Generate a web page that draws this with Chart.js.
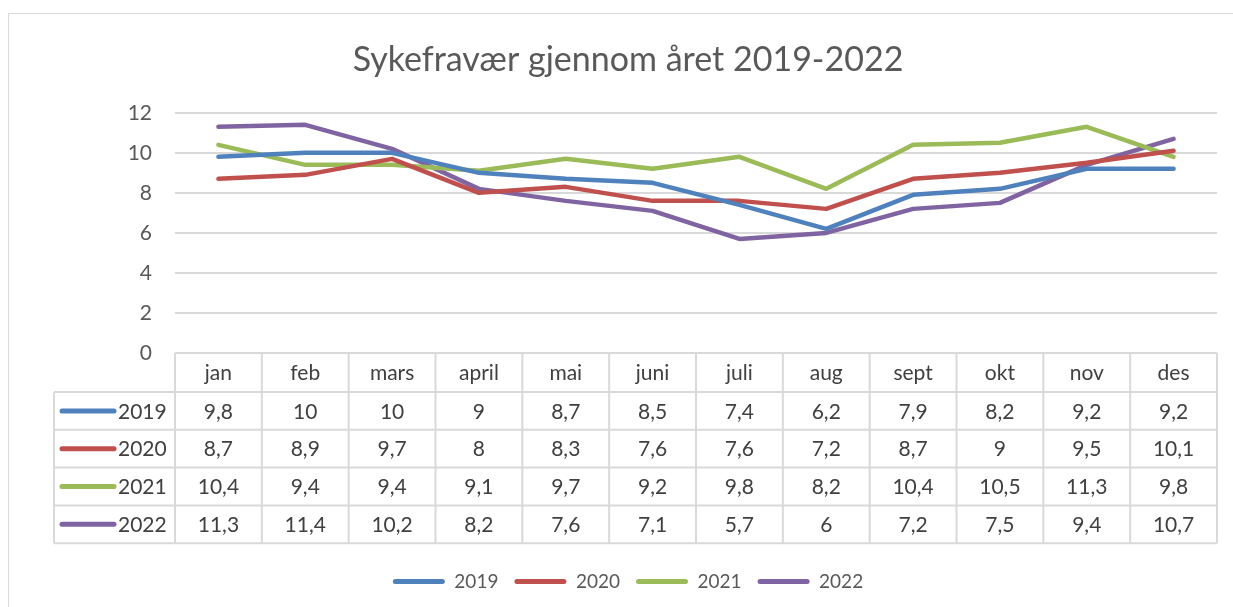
<!DOCTYPE html>
<html>
<head>
<meta charset="utf-8">
<script src="https://cdn.jsdelivr.net/npm/chart.js@4/dist/chart.umd.min.js"></script>
<style>
  body { margin: 0; background: #fff; overflow: hidden; }
  .frame { position: absolute; left: 8px; top: 13px; width: 1400px; height: 800px; border: 1.5px solid #d9d9d9; }
  .wrap { position: absolute; left: 0; top: 0; width: 1233px; height: 607px; }
</style>
</head>
<body>
<div class="frame"></div>
<div class="wrap"><canvas id="chart"></canvas></div>
<script>
// data
const months = ['jan', 'feb', 'mars', 'april', 'mai', 'juni', 'juli', 'aug', 'sept', 'okt', 'nov', 'des'];
const years = ['2019', '2020', '2021', '2022'];
const values2019 = [9.8, 10, 10, 9, 8.7, 8.5, 7.4, 6.2, 7.9, 8.2, 9.2, 9.2];
const values2020 = [8.7, 8.9, 9.7, 8, 8.3, 7.6, 7.6, 7.2, 8.7, 9, 9.5, 10.1];
const values2021 = [10.4, 9.4, 9.4, 9.1, 9.7, 9.2, 9.8, 8.2, 10.4, 10.5, 11.3, 9.8];
const values2022 = [11.3, 11.4, 10.2, 8.2, 7.6, 7.1, 5.7, 6, 7.2, 7.5, 9.4, 10.7];
const yTicks = [0, 2, 4, 6, 8, 10, 12];

const series = [values2019, values2020, values2021, values2022];
const colors = ['#4f81bd', '#c0504d', '#9bbb59', '#8064a2'];

const FONT = 'Lato, "Open Sans", sans-serif';
const TEXT = '#595959';
const GRID = '#d9d9d9';

const fmt = v => String(v).replace('.', ',');

// data table under the plot, Excel style
const dataTable = {
  id: 'dataTable',
  afterDraw(chart) {
    const ctx = chart.ctx;
    const area = chart.chartArea;
    const x = chart.scales.x;
    const top = area.bottom;
    const headH = 39;
    const rowH = 37.8;
    const leftX = 54;
    const bottom = top + headH + rowH * years.length;
    const colW = (area.right - area.left) / months.length;

    ctx.save();
    ctx.strokeStyle = GRID;
    ctx.lineWidth = 2;
    ctx.beginPath();
    // horizontal lines
    ctx.moveTo(area.left, top); ctx.lineTo(area.right, top);
    for (let r = 0; r <= years.length; r++) {
      const y = top + headH + r * rowH;
      ctx.moveTo(leftX, y); ctx.lineTo(area.right, y);
    }
    // vertical lines
    for (let c = 0; c <= months.length; c++) {
      const xx = area.left + c * colW;
      ctx.moveTo(xx, top); ctx.lineTo(xx, bottom);
    }
    ctx.moveTo(leftX, top + headH); ctx.lineTo(leftX, bottom);
    ctx.stroke();

    ctx.font = '21px ' + FONT;
    ctx.fillStyle = '#404040';
    ctx.textAlign = 'center';
    ctx.textBaseline = 'middle';
    months.forEach((m, i) => {
      ctx.fillText(m, x.getPixelForValue(i), top + headH / 2 + 1);
    });
    series.forEach((vals, r) => {
      const cy = top + headH + r * rowH + rowH / 2 + 1;
      vals.forEach((v, i) => {
        ctx.fillText(fmt(v), x.getPixelForValue(i), cy);
      });
      // legend key
      ctx.strokeStyle = colors[r];
      ctx.lineWidth = 5;
      ctx.lineCap = 'round';
      ctx.beginPath();
      ctx.moveTo(62, cy - 1); ctx.lineTo(114, cy - 1);
      ctx.stroke();
      ctx.textAlign = 'left';
      ctx.fillText(years[r], 118, cy);
      ctx.textAlign = 'center';
    });
    ctx.restore();
  }
};

new Chart(document.getElementById('chart'), {
  type: 'line',
  data: {
    labels: months,
    datasets: years.map((y, i) => ({
      label: y,
      data: series[i],
      borderColor: colors[i],
      backgroundColor: colors[i],
      borderWidth: 4.5,
      borderCapStyle: 'round',
      borderJoinStyle: 'round',
      pointRadius: 0,
      tension: 0
    }))
  },
  options: {
    responsive: true,
    maintainAspectRatio: false,
    animation: false,
    layout: { padding: { left: 39, right: 16, top: 0, bottom: 6 } },
    plugins: {
      title: {
        display: true,
        text: 'Sykefravær gjennom året 2019-2022',
        color: TEXT,
        font: { family: FONT, size: 34, weight: 'normal' },
        padding: { top: 40, bottom: 32 }
      },
      legend: {
        position: 'bottom',
        labels: {
          color: TEXT,
          font: { family: FONT, size: 19 },
          boxWidth: 52,
          boxHeight: 5,
          padding: 16,
          useBorderRadius: true,
          borderRadius: 2.5,
          generateLabels: chart => chart.data.datasets.map((ds, i) => ({
            text: ds.label,
            fillStyle: ds.borderColor,
            strokeStyle: ds.borderColor,
            lineWidth: 0,
            borderRadius: 2.5,
            fontColor: TEXT,
            hidden: false,
            datasetIndex: i
          }))
        }
      },
      tooltip: { enabled: false }
    },
    scales: {
      x: {
        offset: true,
        ticks: { display: false },
        grid: { display: false },
        border: { display: false },
        afterFit: scale => { scale.height = 203; }
      },
      y: {
        min: 0,
        max: 12,
        afterBuildTicks: scale => { scale.ticks = yTicks.map(v => ({ value: v })); },
        afterFit: scale => { scale.width = 136; },
        ticks: {
          color: TEXT,
          font: { family: FONT, size: 21 },
          padding: 23
        },
        grid: { color: GRID, lineWidth: 2, drawTicks: false },
        border: { display: false }
      }
    }
  },
  plugins: [dataTable]
});
</script>
</body>
</html>
